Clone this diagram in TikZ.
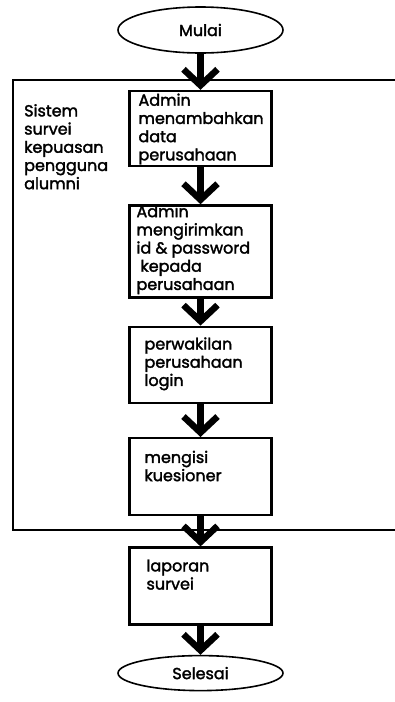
\documentclass[tikz,border=0pt]{standalone}
\usepackage{fontspec}
\setmainfont{Poppins}[FakeBold=2]
\usetikzlibrary{positioning,arrows.meta,shapes.geometric}

% box text: height, left gap, top gap, lines
\newcommand{\steptext}[4]{\parbox[c][#1][t]{128pt}{\raggedright\leftskip=#2\relax\vspace*{#3}\strut#4}}

\begin{document}
\begin{tikzpicture}[
  x=1pt, y=-1pt,
  node distance=33pt,
  terminal/.style={ellipse, draw, line width=1.6pt, minimum width=165pt, font=\fontsize{16}{18}\selectfont},
  process/.style={rectangle, draw, line width=2.4pt, inner xsep=7pt, inner ysep=0pt, font=\fontsize{16}{18.2}\selectfont},
  flow/.style={line width=6.5pt, -{Straight Barb[length=16pt, width=34pt]}},
  frame/.style={draw, line width=2pt}
]
  \useasboundingbox (0,0) rectangle (395,702);
  \clip (0,0) rectangle (395,702);

  % system frame, open to the right
  \coordinate (frameNW) at (13,80);
  \coordinate (frameSE) at (410,530);
  \draw[frame] (frameNW) rectangle (frameSE);
  \node[anchor=north west, inner sep=0pt, align=left, font=\fontsize{16}{18.2}\selectfont] (sysLabel) at (24,104) {Sistem\\survei\\kepuasan\\pengguna\\alumni};

  \node[terminal, minimum height=46pt] (start) at (200.5,30) {Mulai};
  \node[process, below=36pt of start] (addData) {\steptext{75pt}{2pt}{2pt}{Admin\\menambahkan\\data\\perusahaan}};
  \node[process, below=37pt of addData] (sendId) {\steptext{92pt}{0pt}{-1pt}{Admin\\mengirimkan\\id \& password\\\hspace*{4pt}kepada\\perusahaan}};
  \node[process, below=27pt of sendId] (login) {\steptext{76pt}{8pt}{10pt}{perwakilan\\perusahaan\\login}};
  \node[process, below=33pt of login] (fillForm) {\steptext{77pt}{8pt}{12pt}{mengisi\\kuesioner}};
  \node[process, below=30pt of fillForm] (report) {\steptext{77pt}{10pt}{11pt}{laporan\\survei}};
  \node[terminal, minimum height=35pt, below=29pt of report] (finish) {Selesai};

  \draw[flow] (start) -- (addData);
  \draw[flow] (addData) -- (sendId);
  \draw[flow] (sendId) -- (login);
  \draw[flow] (login) -- (fillForm);
  \draw[flow] (fillForm) -- (report);
  \draw[flow] (report) -- (finish);
\end{tikzpicture}
\end{document}
